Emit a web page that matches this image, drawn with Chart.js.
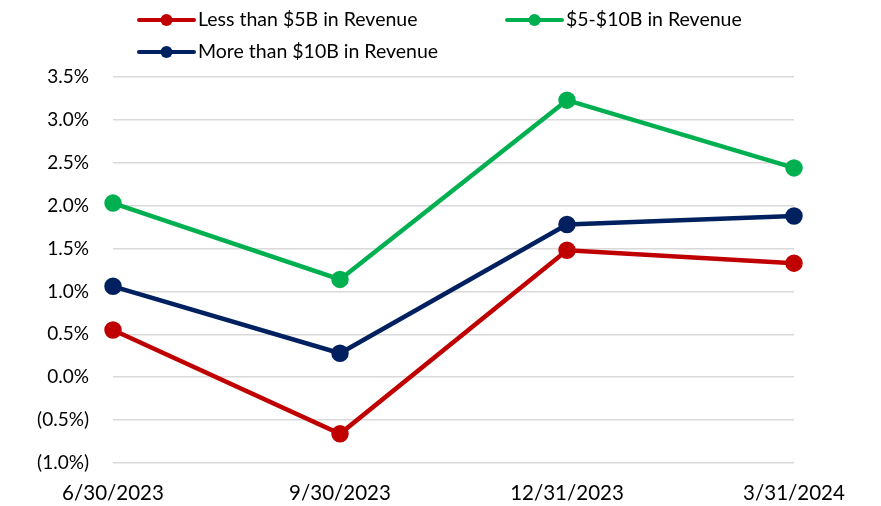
<!DOCTYPE html>
<html><head><meta charset="utf-8">
<script src="https://cdn.jsdelivr.net/npm/chart.js@4/dist/chart.umd.min.js"></script>
<style>html,body{margin:0;padding:0;background:#fff}#wrap{width:881px;height:506px;position:relative}</style>
</head><body><div id="wrap"><canvas id="c" width="881" height="506"></canvas></div>
<script>
const categories = ["6/30/2023", "9/30/2023", "12/31/2023", "3/31/2024"];
const lessThan5B = [0.55, -0.66, 1.48, 1.33];
const from5to10B = [2.03, 1.14, 3.23, 2.44];
const moreThan10B = [1.06, 0.28, 1.78, 1.88];
const seriesNames = ["Less than $5B in Revenue", "$5-$10B in Revenue", "More than $10B in Revenue"];
const seriesColors = ["#c00000", "#00b050", "#002060"];

const FONT = "Lato, 'Open Sans', sans-serif";

const legendPlugin = {
  id: 'customLegend',
  afterDraw(chart) {
    const ctx = chart.ctx;
    const pos = [[139, 20], [507, 20], [139, 52]];
    chart.data.datasets.forEach((ds, i) => {
      const [x, y] = pos[i];
      ctx.save();
      ctx.strokeStyle = ds.borderColor;
      ctx.lineWidth = 4;
      ctx.lineCap = 'round';
      ctx.beginPath(); ctx.moveTo(x, y); ctx.lineTo(x + 55, y); ctx.stroke();
      ctx.fillStyle = ds.borderColor;
      ctx.beginPath(); ctx.arc(x + 27.5, y, 6, 0, Math.PI * 2); ctx.fill();
      ctx.fillStyle = '#000';
      ctx.font = "19.5px " + FONT;
      ctx.textBaseline = 'middle';
      ctx.fillText(ds.label, x + 59, y);
      ctx.restore();
    });
  }
};

function mk(i, data) {
  return {
    label: seriesNames[i], data: data,
    borderColor: seriesColors[i], backgroundColor: seriesColors[i],
    borderWidth: 4.5, pointRadius: 6.5, pointHoverRadius: 6.5,
    pointBackgroundColor: seriesColors[i], pointBorderColor: seriesColors[i],
    tension: 0
  };
}

new Chart(document.getElementById('c'), {
  type: 'line',
  data: {
    labels: categories,
    datasets: [mk(0, lessThan5B), mk(1, from5to10B), mk(2, moreThan10B)]
  },
  options: {
    responsive: false, animation: false,
    layout: { padding: { top: 77, right: 0, bottom: 0, left: 0 } },
    plugins: { legend: { display: false }, tooltip: { enabled: false } },
    scales: {
      x: {
        offset: false,
        afterFit(s) { s.height = 43; s.paddingRight = 87; },
        grid: { display: false },
        border: { display: false },
        ticks: { color: '#000', font: { family: FONT, size: 20.5 }, padding: 10, maxRotation: 0 }
      },
      y: {
        min: -1, max: 3.5,
        afterFit(s) { s.width = 113; },
        grid: { color: '#d9d9d9', lineWidth: 1.5, drawTicks: false },
        border: { display: false },
        ticks: {
          stepSize: 0.5, color: '#000', font: { family: FONT, size: 19 }, padding: 24,
          callback: v => v < 0 ? '(' + Math.abs(v).toFixed(1) + '%)' : v.toFixed(1) + '%'
        }
      }
    }
  },
  plugins: [legendPlugin]
});
</script></body></html>
